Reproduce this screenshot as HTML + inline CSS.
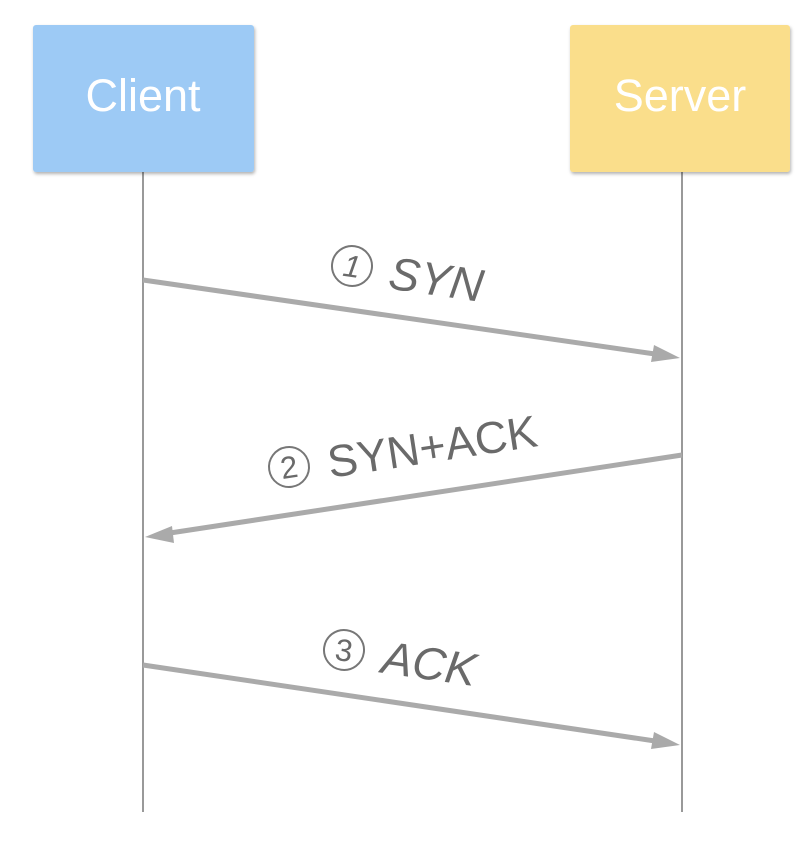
<!DOCTYPE html>
<html><head><style>
body{margin:0;background:#fff;width:808px;height:842px;overflow:hidden}
</style></head><body>
<svg width="808" height="842" xmlns="http://www.w3.org/2000/svg">
<defs>
<filter id="sh" x="-10%" y="-10%" width="130%" height="130%"><feDropShadow dx="1" dy="2" stdDeviation="1.5" flood-color="#000" flood-opacity="0.3"/></filter>
</defs>
<line x1="143" y1="172" x2="143" y2="812" stroke="#999" stroke-width="2"/>
<line x1="682" y1="172" x2="682" y2="812" stroke="#999" stroke-width="2"/>
<rect x="33" y="25" width="221" height="147" rx="3" fill="#9dcaf5" filter="url(#sh)"/>
<rect x="570" y="25" width="220" height="147" rx="3" fill="#fade8b" filter="url(#sh)"/>
<text x="143" y="111" font-family="Liberation Sans, sans-serif" font-size="45" fill="#fff" text-anchor="middle">Client</text>
<text x="680" y="111" font-family="Liberation Sans, sans-serif" font-size="45" fill="#fff" text-anchor="middle">Server</text>
<g stroke="#aaa" stroke-width="5" fill="#aaa">
<line x1="143" y1="280" x2="655" y2="354"/>
<polygon points="680,358 651,362 654,345" stroke="none"/>
<line x1="682" y1="455" x2="170" y2="533"/>
<polygon points="145,537 172,526 174,543" stroke="none"/>
<line x1="143" y1="665" x2="655" y2="741"/>
<polygon points="680,745 651,749 654,732" stroke="none"/>
</g>
<g font-family="Liberation Sans, DejaVu Sans, sans-serif" fill="#6a6a6a">
<g transform="translate(352,266) rotate(8.3)">
<circle r="20" fill="none" stroke="#777" stroke-width="2"/>
<text y="11" font-size="31" text-anchor="middle" font-style="italic">1</text>
<text x="38" y="17" font-size="46" font-style="italic">SYN</text>
</g>
<g transform="translate(289,467) rotate(-8.7)">
<circle r="20" fill="none" stroke="#777" stroke-width="2"/>
<text y="11" font-size="31" text-anchor="middle">2</text>
<text x="39" y="17" font-size="45">SYN+ACK</text>
</g>
<g transform="translate(344,650) rotate(8.3)">
<circle r="20" fill="none" stroke="#777" stroke-width="2"/>
<text y="11" font-size="31" text-anchor="middle">3</text>
<text x="39" y="17" font-size="46" font-style="italic">ACK</text>
</g>
</g>
</svg>
</body></html>
